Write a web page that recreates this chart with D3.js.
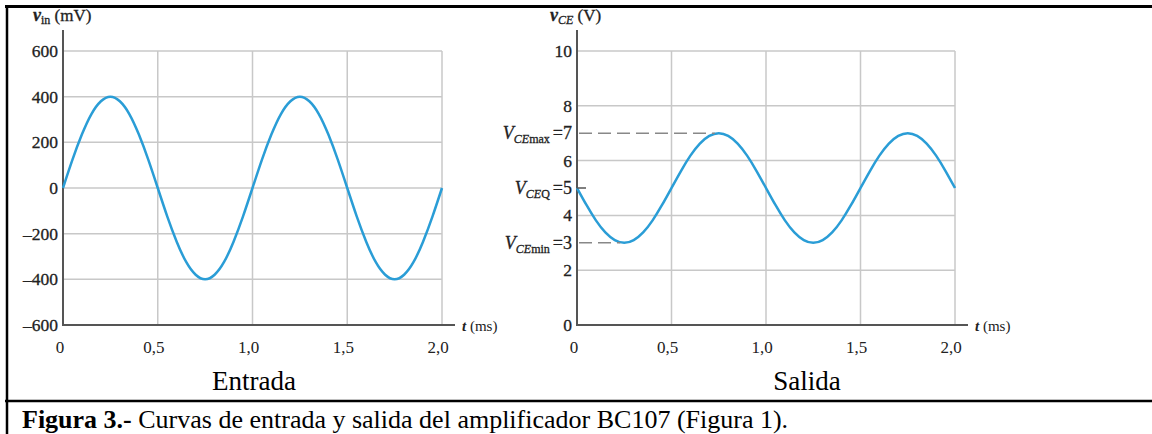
<!DOCTYPE html>
<html>
<head>
<meta charset="utf-8">
<script src="https://cdn.jsdelivr.net/npm/d3@7"></script>
<style>
  body { margin: 0; background: #fff; }
  svg { display: block; font-family: "Liberation Serif", "Times New Roman", serif; }
</style>
</head>
<body>
<svg id="chart" width="1152" height="434"></svg>
<script>
// Data
let times = [0, 0.05, 0.1, 0.15, 0.2, 0.25, 0.3, 0.35, 0.4, 0.45, 0.5, 0.55, 0.6, 0.65, 0.7, 0.75, 0.8, 0.85, 0.9, 0.95,
             1.0, 1.05, 1.1, 1.15, 1.2, 1.25, 1.3, 1.35, 1.4, 1.45, 1.5, 1.55, 1.6, 1.65, 1.7, 1.75, 1.8, 1.85, 1.9, 1.95, 2.0];
let vin = [0, 124, 235, 324, 380, 400, 380, 324, 235, 124, 0, -124, -235, -324, -380, -400, -380, -324, -235, -124,
           0, 124, 235, 324, 380, 400, 380, 324, 235, 124, 0, -124, -235, -324, -380, -400, -380, -324, -235, -124, 0];
let vce = [5, 4.38, 3.82, 3.38, 3.1, 3.0, 3.1, 3.38, 3.82, 4.38, 5, 5.62, 6.18, 6.62, 6.9, 7.0, 6.9, 6.62, 6.18, 5.62,
           5, 4.38, 3.82, 3.38, 3.1, 3.0, 3.1, 3.38, 3.82, 4.38, 5, 5.62, 6.18, 6.62, 6.9, 7.0, 6.9, 6.62, 6.18, 5.62, 5];
let xTicks = [0, 0.5, 1.0, 1.5, 2.0];
let vinTicks = [600, 400, 200, 0, -200, -400, -600];
let vceTicks = [10, 8, 6, 4, 2, 0];
let vceMarks = [
    { name: 'max', value: 7, at: 0.75 },
    { name: 'Q', value: 5, at: 0 },
    { name: 'min', value: 3, at: 0.25 }
];

let svg = d3.select("#chart");
let blue = "#2a9dd6";
let grid = "#c8c8c8";
let axisCol = "#555";

let comma = d3.formatLocale({ decimal: ",", thousands: ".", grouping: [3], currency: ["", ""], minus: "\u2013" });
let fmtT = d => d === 0 ? "0" : comma.format(".1f")(d);
let fmtV = comma.format("d");

// frame
svg.append("line").attr("x1", 5).attr("x2", 1152).attr("y1", 6.5).attr("y2", 6.5)
    .attr("stroke", "#000").attr("stroke-width", 3);
svg.append("line").attr("x1", 7).attr("x2", 7).attr("y1", 5).attr("y2", 434)
    .attr("stroke", "#000").attr("stroke-width", 2.5);
svg.append("line").attr("x1", 5).attr("x2", 1152).attr("y1", 401).attr("y2", 401)
    .attr("stroke", "#000").attr("stroke-width", 2.5);

function panel(x0, x1, yDomain, yTickVals, values, tickFormat) {
    let x = d3.scaleLinear().domain([0, 2]).range([x0, x1]);
    let y = d3.scaleLinear().domain(yDomain).range([325, 51]);
    let g = svg.append("g");

    // grid
    g.selectAll(".hg").data(yTickVals.filter(v => v !== yDomain[0])).enter().append("line")
        .attr("x1", x(0)).attr("x2", x(2)).attr("y1", d => y(d)).attr("y2", d => y(d))
        .attr("stroke", grid).attr("stroke-width", 1.5);
    g.selectAll(".vg").data(xTicks.slice(1)).enter().append("line")
        .attr("x1", d => x(d)).attr("x2", d => x(d)).attr("y1", y(yDomain[1])).attr("y2", y(yDomain[0]))
        .attr("stroke", grid).attr("stroke-width", 1.5);

    // axes
    g.append("line").attr("x1", x(0)).attr("x2", x(2) + 13).attr("y1", y(yDomain[0])).attr("y2", y(yDomain[0]))
        .attr("stroke", axisCol).attr("stroke-width", 2);
    g.append("line").attr("x1", x(0)).attr("x2", x(0)).attr("y1", 30).attr("y2", y(yDomain[0]) + 1)
        .attr("stroke", axisCol).attr("stroke-width", 2);

    // tick labels
    g.selectAll(".yl").data(yTickVals).enter().append("text")
        .attr("x", x(0) - 5).attr("y", d => y(d) + 6)
        .attr("text-anchor", "end").attr("font-size", 17.5).attr("fill", "#222")
        .attr("stroke", "#222").attr("stroke-width", 0.3)
        .text(tickFormat);
    g.selectAll(".xl").data(xTicks).enter().append("text")
        .attr("x", d => x(d) - (d === 0 ? 3 : 4)).attr("y", 353)
        .attr("text-anchor", "middle").attr("font-size", 17).attr("fill", "#222")
        .text(fmtT);

    // t (ms)
    let tl = g.append("text").attr("x", x(2) + 20).attr("y", 331).attr("font-size", 15).attr("fill", "#222");
    tl.append("tspan").attr("font-style", "italic").attr("font-weight", "bold").text("t");
    tl.append("tspan").text(" (ms)");

    // curve
    let line = d3.line().x((d, i) => x(times[i])).y(d => y(d)).curve(d3.curveNatural);
    g.append("path").datum(values).attr("d", line)
        .attr("fill", "none").attr("stroke", blue).attr("stroke-width", 2.5);

    return { x, y, g };
}

// Entrada
let left = panel(63, 442, [-600, 600], vinTicks, vin, fmtV);
let tin = svg.append("text").attr("x", 33).attr("y", 21).attr("font-size", 17).attr("fill", "#222")
    .attr("stroke", "#222").attr("stroke-width", 0.3);
tin.append("tspan").attr("font-style", "italic").attr("font-weight", "bold").attr("font-size", 18).text("v");
tin.append("tspan").attr("font-size", 12).attr("dy", 3).text("in");
tin.append("tspan").attr("dy", -3).text(" (mV)");

// Salida
let right = panel(577, 955, [0, 10], vceTicks, vce, d => d);
let tce = svg.append("text").attr("x", 550).attr("y", 21).attr("font-size", 17).attr("fill", "#222")
    .attr("stroke", "#222").attr("stroke-width", 0.3);
tce.append("tspan").attr("font-style", "italic").attr("font-weight", "bold").attr("font-size", 18).text("v");
tce.append("tspan").attr("font-style", "italic").attr("font-size", 12).attr("dy", 3).text("CE");
tce.append("tspan").attr("dy", -3).text(" (V)");

// V_CE annotations
vceMarks.forEach(m => {
    let yy = right.y(m.value);
    if (m.at > 0) {
        right.g.append("line").attr("x1", right.x(0) + 2).attr("x2", right.x(m.at) - 4)
            .attr("y1", yy).attr("y2", yy)
            .attr("stroke", "#888").attr("stroke-width", 1.5).attr("stroke-dasharray", "13,6");
    } else {
        right.g.append("line").attr("x1", right.x(0)).attr("x2", right.x(0) + 9)
            .attr("y1", yy).attr("y2", yy).attr("stroke", axisCol).attr("stroke-width", 1.5);
    }
    let t = right.g.append("text").attr("x", right.x(0) - 5).attr("y", yy + 6)
        .attr("text-anchor", "end").attr("font-size", 18).attr("fill", "#222")
        .attr("stroke", "#222").attr("stroke-width", 0.3);
    t.append("tspan").attr("font-style", "italic").text("V");
    let sub = t.append("tspan").attr("font-size", 12).attr("dy", 4);
    sub.append("tspan").attr("font-style", "italic").text("CE");
    sub.append("tspan").text(m.name);
    t.append("tspan").attr("dy", -4).attr("dx", 3).text("=" + m.value);
});

// subtitles
svg.append("text").attr("x", 254).attr("y", 390).attr("text-anchor", "middle")
    .attr("font-size", 27).attr("fill", "#000").text("Entrada");
svg.append("text").attr("x", 807).attr("y", 390).attr("text-anchor", "middle")
    .attr("font-size", 27).attr("fill", "#000").text("Salida");

// caption
let cap = svg.append("text").attr("x", 22).attr("y", 428).attr("font-size", 26).attr("fill", "#000");
cap.append("tspan").attr("font-weight", "bold").text("Figura 3.-");
cap.append("tspan").text(" Curvas de entrada y salida del amplificador BC107 (Figura 1).");
</script>
</body>
</html>
